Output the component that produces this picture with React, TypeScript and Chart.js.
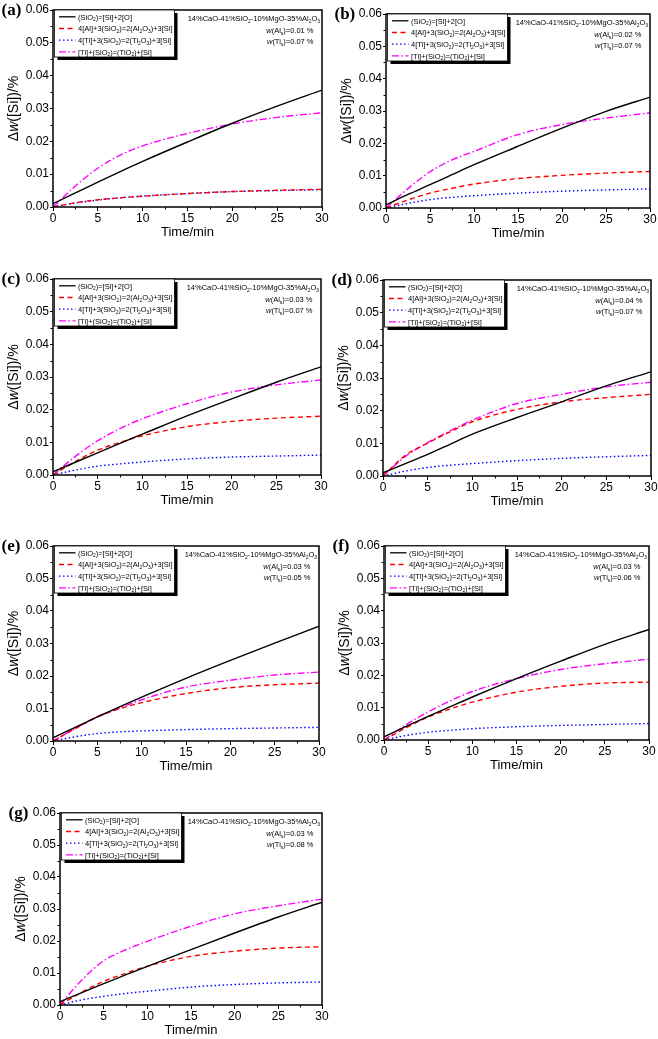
import React, { useEffect, useRef } from "react";
import { Chart, registerables } from "chart.js";

Chart.register(...registerables);

// ---------- data ----------
const times = [0, 2.5, 5, 7.5, 10, 15, 20, 25, 30];
const panelLetters = ["(a)", "(b)", "(c)", "(d)", "(e)", "(f)", "(g)"];
const slagLabel = "14%CaO-41%SiO2-10%MgO-35%Al2O3";
const alContents = ["0.01", "0.02", "0.03", "0.04", "0.03", "0.03", "0.03"];
const tiContents = ["0.07", "0.07", "0.07", "0.07", "0.05", "0.06", "0.08"];
const xTickLabels = ["0", "5", "10", "15", "20", "25", "30"];
const yTickLabels = ["0.00", "0.01", "0.02", "0.03", "0.04", "0.05", "0.06"];

// (SiO2)=[Si]+2[O]
const siO2Decomp = [
  [0.001, 0.0043, 0.0076, 0.0108, 0.0139, 0.0198, 0.0255, 0.0307, 0.0356],
  [0.001, 0.0042, 0.0072, 0.0103, 0.0134, 0.0191, 0.0247, 0.0299, 0.0343],
  [0.001, 0.0039, 0.0068, 0.0097, 0.0125, 0.0181, 0.0233, 0.0284, 0.0331],
  [0.001, 0.0038, 0.0066, 0.0097, 0.0128, 0.0179, 0.0227, 0.0276, 0.0319],
  [0.001, 0.0042, 0.0074, 0.0105, 0.0135, 0.0193, 0.0248, 0.0301, 0.0353],
  [0.001, 0.0042, 0.0073, 0.0103, 0.0133, 0.019, 0.0244, 0.0296, 0.0342],
  [0.001, 0.0039, 0.0067, 0.0094, 0.0121, 0.0173, 0.0225, 0.0275, 0.0321],
];
// 4[Al]+3(SiO2)=2(Al2O3)+3[Si]
const alReduction = [
  [0, 0.0013, 0.0022, 0.0028, 0.0033, 0.0041, 0.0047, 0.0051, 0.0054],
  [0, 0.0025, 0.0046, 0.0061, 0.0074, 0.0091, 0.0101, 0.0108, 0.0113],
  [0, 0.0041, 0.0076, 0.01, 0.012, 0.0148, 0.0164, 0.0174, 0.018],
  [0, 0.0063, 0.0101, 0.0135, 0.0166, 0.0204, 0.0227, 0.024, 0.025],
  [0, 0.0038, 0.0074, 0.0099, 0.0118, 0.0146, 0.0164, 0.0173, 0.0178],
  [0, 0.0038, 0.0071, 0.0096, 0.0117, 0.0148, 0.0166, 0.0176, 0.0179],
  [0, 0.004, 0.0074, 0.0099, 0.0121, 0.0152, 0.0168, 0.0178, 0.0182],
];
// 4[Ti]+3(SiO2)=2(Ti2O3)+3[Si]
const tiToTi2O3 = [
  [0, 0.0012, 0.0021, 0.0028, 0.0033, 0.0041, 0.0047, 0.005, 0.0053],
  [0, 0.0014, 0.0026, 0.0033, 0.0038, 0.0046, 0.0052, 0.0056, 0.0059],
  [0, 0.0015, 0.0027, 0.0034, 0.004, 0.0049, 0.0055, 0.0058, 0.0061],
  [0, 0.0015, 0.0026, 0.0033, 0.0038, 0.0047, 0.0054, 0.0059, 0.0063],
  [0, 0.0013, 0.0023, 0.0028, 0.0031, 0.0035, 0.0038, 0.004, 0.0042],
  [0, 0.0014, 0.0024, 0.003, 0.0035, 0.0041, 0.0045, 0.0048, 0.0051],
  [0, 0.0016, 0.0027, 0.0036, 0.0043, 0.0056, 0.0064, 0.0069, 0.0072],
];
// [Ti]+(SiO2)=(TiO2)+[Si]
const tiToTiO2 = [
  [0, 0.0064, 0.0118, 0.0158, 0.0186, 0.0224, 0.0253, 0.0273, 0.0287],
  [0, 0.006, 0.0112, 0.0149, 0.0175, 0.0227, 0.0258, 0.0278, 0.0294],
  [0, 0.0057, 0.0105, 0.0142, 0.0172, 0.0218, 0.0254, 0.0276, 0.0291],
  [0, 0.006, 0.0102, 0.0138, 0.0171, 0.0222, 0.025, 0.0273, 0.0287],
  [0, 0.0038, 0.0074, 0.0101, 0.0127, 0.0166, 0.0187, 0.0203, 0.0212],
  [0, 0.0047, 0.0087, 0.0121, 0.015, 0.019, 0.0218, 0.0236, 0.025],
  [0, 0.0078, 0.0138, 0.0172, 0.0199, 0.0246, 0.0285, 0.031, 0.0331],
];

// ---------- layout (page px) ----------
const frames = [
  { cx: 0, cy: 0, cw: 329, ch: 255, l: 53, t: 10, r: 322, b: 207 },
  { cx: 329, cy: 0, cw: 329, ch: 255, l: 386, t: 14, r: 650, b: 208 },
  { cx: 0, cy: 255, cw: 329, ch: 260, l: 53, t: 279, r: 321, b: 475 },
  { cx: 329, cy: 255, cw: 329, ch: 260, l: 383, t: 280, r: 651, b: 476 },
  { cx: 0, cy: 515, cw: 329, ch: 265, l: 53, t: 546, r: 319, b: 741 },
  { cx: 329, cy: 515, cw: 329, ch: 265, l: 384, t: 546, r: 649, b: 740 },
  { cx: 0, cy: 780, cw: 329, ch: 259, l: 60, t: 813, r: 322, b: 1005 },
];

const SANS = '"Liberation Sans", Arial, Helvetica, sans-serif';
const SERIF = '"Liberation Serif", "Times New Roman", serif';

type Seg = { t: string; sub?: boolean; it?: boolean };

// digits directly following a letter become subscripts (SiO2 -> SiO₂)
function chem(text: string): Seg[] {
  const out: Seg[] = [];
  for (let i = 0; i < text.length; i++) {
    const c = text[i];
    const prev = i > 0 ? text[i - 1] : "";
    const isSub = /[0-9]/.test(c) && /[A-Za-z]/.test(prev) && !/[0-9]/.test(text[i + 1] || "");
    const last = out[out.length - 1];
    if (last && !!last.sub === isSub) last.t += c;
    else out.push({ t: c, sub: isSub });
  }
  return out;
}

const legendLabels = [
  "(SiO2)=[Si]+2[O]",
  "4[Al]+3(SiO2)=2(Al2O3)+3[Si]",
  "4[Ti]+3(SiO2)=2(Ti2O3)+3[Si]",
  "[Ti]+(SiO2)=(TiO2)+[Si]",
];

function fontFor(s: Seg, size: number) {
  const sz = s.sub ? size * 0.65 : size;
  return `${s.it ? "italic " : ""}${sz}px ${SANS}`;
}
function measure(ctx: CanvasRenderingContext2D, segs: Seg[], size: number) {
  let w = 0;
  for (const s of segs) {
    ctx.font = fontFor(s, size);
    w += ctx.measureText(s.t).width;
  }
  return w;
}
function drawRich(ctx: CanvasRenderingContext2D, segs: Seg[], x: number, baseline: number, size: number) {
  let cx = x;
  ctx.textAlign = "left";
  ctx.textBaseline = "alphabetic";
  for (const s of segs) {
    ctx.font = fontFor(s, size);
    ctx.fillText(s.t, cx, baseline + (s.sub ? size * 0.25 : 0));
    cx += ctx.measureText(s.t).width;
  }
}

const decorPlugin = {
  id: "decor",
  afterDraw(chart: any) {
    const idx = chart.options.plugins.decor.idx as number;
    const ctx: CanvasRenderingContext2D = chart.ctx;
    const { left, top, right, bottom } = chart.chartArea;
    const xs = chart.scales.x;
    const ys = chart.scales.y;
    ctx.save();
    ctx.fillStyle = "#000";
    ctx.strokeStyle = "#000";

    // minor ticks
    ctx.lineWidth = 1;
    ctx.beginPath();
    for (let v = 2.5; v < 30; v += 5) {
      const px = Math.round(xs.getPixelForValue(v)) + 0.5;
      ctx.moveTo(px, bottom);
      ctx.lineTo(px, bottom + 2.5);
    }
    for (let v = 0.005; v < 0.06; v += 0.01) {
      const py = Math.round(ys.getPixelForValue(v)) + 0.5;
      ctx.moveTo(left, py);
      ctx.lineTo(left - 2.5, py);
    }
    ctx.stroke();

    // frame
    ctx.lineWidth = 1.5;
    ctx.strokeRect(left, top, right - left, bottom - top);

    // legend
    const fs = 7.5;
    const bx = left + 1.5;
    const by = top;
    const bw = 120;
    const bh = 47;
    ctx.fillStyle = "#000";
    ctx.fillRect(bx + 3, by + 3, bw, bh);
    ctx.fillStyle = "#fff";
    ctx.fillRect(bx, by, bw, bh);
    ctx.lineWidth = 0.8;
    ctx.strokeRect(bx, by, bw, bh);
    chart.data.datasets.forEach((ds: any, i: number) => {
      const y = by + 6.8 + 11.7 * i;
      ctx.save();
      ctx.strokeStyle = ds.borderColor;
      ctx.lineWidth = 1.3;
      ctx.setLineDash(ds.borderDash || []);
      ctx.beginPath();
      ctx.moveTo(bx + 4.5, y);
      ctx.lineTo(bx + 21, y);
      ctx.stroke();
      ctx.restore();
      ctx.fillStyle = "#000";
      drawRich(ctx, chem(legendLabels[i]), bx + 23.5, y + 2.7, fs);
    });

    // annotations
    ctx.fillStyle = "#000";
    const line1 = chem(slagLabel);
    drawRich(ctx, line1, right - 2 - measure(ctx, line1, fs), top + 8.3 + 2.7, fs);
    const line2: Seg[] = [{ t: "w", it: true }, { t: "(Al" }, { t: "s", sub: true }, { t: ")=" + alContents[idx] + " %" }];
    drawRich(ctx, line2, right - 8.5 - measure(ctx, line2, fs), top + 20 + 2.7, fs);
    const line3: Seg[] = [{ t: "w", it: true }, { t: "(Ti" }, { t: "s", sub: true }, { t: ")=" + tiContents[idx] + " %" }];
    drawRich(ctx, line3, right - 8.5 - measure(ctx, line3, fs), top + 31 + 2.7, fs);

    // x title
    ctx.font = `13px ${SANS}`;
    ctx.textAlign = "center";
    ctx.textBaseline = "middle";
    ctx.fillText("Time/min", (left + right) / 2, bottom + 25.5);

    // y title
    const ySegs: Seg[] = [{ t: "\u0394" }, { t: "w", it: true }, { t: "([Si])/%" }];
    ctx.save();
    ctx.translate(left - 40, (top + bottom) / 2);
    ctx.rotate(-Math.PI / 2);
    const w = measure(ctx, ySegs, 14);
    drawRich(ctx, ySegs, -w / 2, 5, 14);
    ctx.restore();

    // panel letter
    ctx.font = `bold 17px ${SERIF}`;
    ctx.textAlign = "left";
    ctx.textBaseline = "middle";
    ctx.fillText(panelLetters[idx], left - 51.5, top + 1);

    ctx.restore();
  },
};

function makeConfig(idx: number): any {
  const f = frames[idx];
  const pts = (arr: number[]) => times.map((t, i) => ({ x: t, y: arr[i] }));
  const tickFont = { family: SANS, size: 12 };
  return {
    type: "line",
    data: {
      datasets: [
        { label: legendLabels[0], data: pts(siO2Decomp[idx]), borderColor: "#000000", borderWidth: 1.4 },
        { label: legendLabels[1], data: pts(alReduction[idx]), borderColor: "#ff0000", borderWidth: 1.4, borderDash: [5, 3.5] },
        { label: legendLabels[2], data: pts(tiToTi2O3[idx]), borderColor: "#0000ff", borderWidth: 1.4, borderDash: [1.5, 2.5] },
        { label: legendLabels[3], data: pts(tiToTiO2[idx]), borderColor: "#ff00ff", borderWidth: 1.4, borderDash: [7, 2.5, 1.5, 2.5] },
      ].map((d) => ({ ...d, pointRadius: 0, fill: false, cubicInterpolationMode: "monotone" })),
    },
    options: {
      responsive: false,
      animation: false,
      devicePixelRatio: 1,
      layout: { padding: { left: 0, top: f.t - f.cy, right: f.cx + f.cw - f.r, bottom: 0 } },
      plugins: { legend: { display: false }, tooltip: { enabled: false }, decor: { idx } },
      scales: {
        x: {
          type: "linear",
          min: 0,
          max: 30,
          afterBuildTicks: (s: any) => {
            s.ticks = xTickLabels.map((v) => ({ value: parseFloat(v) }));
          },
          afterFit: (s: any) => {
            s.height = f.cy + f.ch - f.b;
          },
          ticks: { font: tickFont, color: "#000", padding: 0, maxRotation: 0, autoSkip: false, callback: (v: number) => xTickLabels.find((l) => parseFloat(l) === v) ?? "" },
          grid: { drawOnChartArea: false, drawTicks: true, tickLength: 4, color: "#000", lineWidth: 1 },
          border: { display: false },
        },
        y: {
          type: "linear",
          min: 0,
          max: 0.06,
          afterBuildTicks: (s: any) => {
            s.ticks = yTickLabels.map((v) => ({ value: parseFloat(v) }));
          },
          afterFit: (s: any) => {
            s.width = f.l - f.cx;
          },
          ticks: { font: tickFont, color: "#000", padding: 1, autoSkip: false, callback: (v: number) => yTickLabels.find((l) => Math.abs(parseFloat(l) - v) < 1e-9) ?? "" },
          grid: { drawOnChartArea: false, drawTicks: true, tickLength: 3, color: "#000", lineWidth: 1 },
          border: { display: false },
        },
      },
    },
    plugins: [decorPlugin],
  };
}

function Panel({ idx }: { idx: number }) {
  const ref = useRef<HTMLCanvasElement>(null);
  const f = frames[idx];
  useEffect(() => {
    const chart = new Chart(ref.current as HTMLCanvasElement, makeConfig(idx));
    return () => chart.destroy();
  }, [idx]);
  return (
    <canvas
      ref={ref}
      width={f.cw}
      height={f.ch}
      style={{ position: "absolute", left: f.cx, top: f.cy, width: f.cw, height: f.ch }}
    />
  );
}

export default function App() {
  return (
    <div style={{ position: "absolute", left: 0, top: 0, width: 658, height: 1039, background: "#fff", overflow: "hidden" }}>
      {frames.map((_, i) => (
        <Panel key={i} idx={i} />
      ))}
    </div>
  );
}
